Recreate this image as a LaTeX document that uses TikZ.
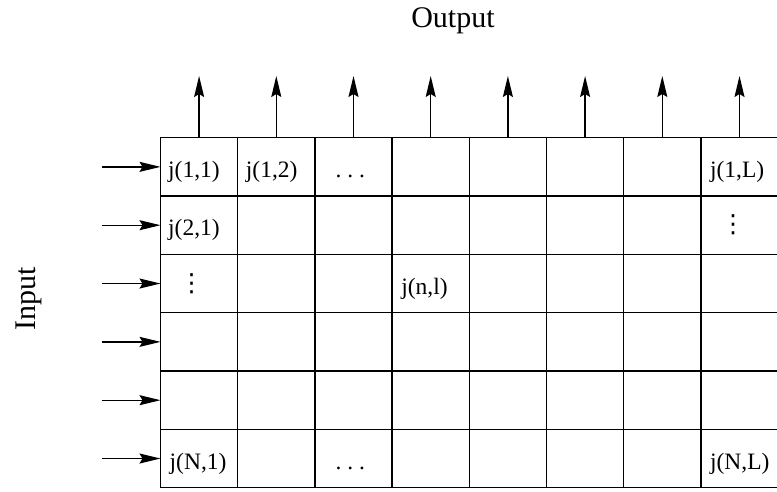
\documentclass[tikz,border=0pt]{standalone}
\usepackage{fontspec}
\setmainfont{Liberation Serif}
\newfontfamily\dejavu{DejaVu Sans}
\usetikzlibrary{arrows.meta}
\tikzset{
  cell/.style={draw, line width=1.4pt, minimum width=77.2pt, minimum height=58.33pt, inner sep=0pt, outer sep=0pt},
  lbl/.style={anchor=base west, inner sep=0pt, font=\fontsize{23.5}{28}\selectfont},
  dotlbl/.style={anchor=center, inner sep=0pt, font=\dejavu\fontsize{25}{30}\selectfont},
  title/.style={inner sep=0pt, font=\fontsize{30}{36}\selectfont},
  arr/.style={line width=1.3pt, -{Stealth[length=21pt, width=10pt, inset=3pt]}},
}
\begin{document}
\begin{tikzpicture}[x=1pt, y=-1pt]
\useasboundingbox (0,0) rectangle (777,491);
\clip (0,0) rectangle (777,491);
% grid cells
\foreach \r in {1,...,6}{
  \foreach \c in {1,...,8}{
    \node[cell] (c-\r-\c) at ({160.5+(\c-0.5)*77.2},{137.7+(\r-0.5)*58.33}) {};
  }
}
% titles
\node[title, anchor=base] (out) at (453,27.5) {Output};
\node[title, rotate=90, anchor=base] (in) at (35,299) {Input};
% output arrows
\foreach \c in {1,...,8}{
  \coordinate (o-\c) at ({160.5+(\c-0.5)*77.2},76);
  \draw[arr] (c-1-\c.north) -- (o-\c);
}
% input arrows
\foreach \r in {1,...,6}{
  \coordinate (i-\r) at (101.5,{137.7+(\r-0.5)*58.33});
  \draw[arr] (i-\r) -- (c-\r-1.west);
}
% labels
\node[lbl] (l11) at ([xshift=7.5pt, yshift=-10.5pt]c-1-1.west) {j(1,1)};
\node[lbl] (l12) at ([xshift=8pt, yshift=-10.5pt]c-1-2.west) {j(1,2)};
\node[lbl] (l13) at ([xshift=20.5pt, yshift=-10.5pt]c-1-3.west) {.\ .\ .};
\node[lbl] (l1L) at ([xshift=9pt, yshift=-10.5pt]c-1-8.west) {j(1,L)};
\node[lbl] (l21) at ([xshift=7.5pt, yshift=-10.5pt]c-2-1.west) {j(2,1)};
\node[dotlbl] (l2L) at ([xshift=-6.5pt]c-2-8.center) {⋮};
\node[dotlbl] (l31) at ([xshift=-7.5pt]c-3-1.center) {⋮};
\node[lbl] (lnl) at ([xshift=9pt, yshift=-10.5pt]c-3-4.west) {j(n,l)};
\node[lbl] (lN1) at ([xshift=9pt, yshift=-10.5pt]c-6-1.west) {j(N,1)};
\node[lbl] (lN3) at ([xshift=20.5pt, yshift=-10.5pt]c-6-3.west) {.\ .\ .};
\node[lbl] (lNL) at ([xshift=9pt, yshift=-10.5pt]c-6-8.west) {j(N,L)};
\end{tikzpicture}
\end{document}
